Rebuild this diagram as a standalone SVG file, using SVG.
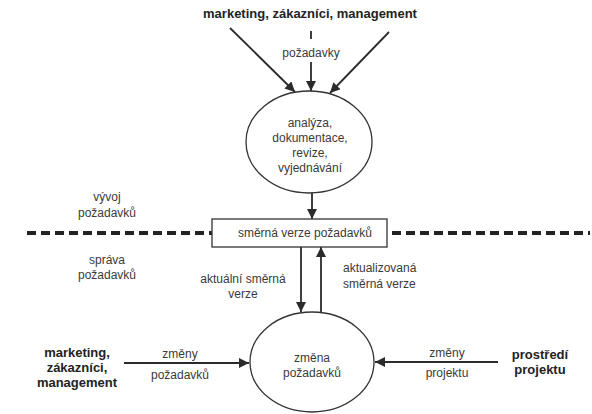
<svg xmlns="http://www.w3.org/2000/svg" width="592" height="414" viewBox="0 0 592 414">
  <defs>
    <marker id="arrow" viewBox="0 0 10 10" refX="10" refY="5" markerWidth="10" markerHeight="10" markerUnits="userSpaceOnUse" orient="auto">
      <path d="M0,0 L10,5 L0,10 Z" fill="#2b2b2b"/>
    </marker>
    <style>
      text { font-family: "Liberation Sans", Arial, sans-serif; fill: #3a3a3a; font-size: 12px; text-anchor: middle; }
      .bold { font-weight: bold; font-size: 13px; fill: #222; }
      .left { text-anchor: start; }
      .shape { fill: #fff; stroke: #333; stroke-width: 1.3; }
      .flow { fill: none; stroke: #2b2b2b; stroke-width: 1.8; marker-end: url(#arrow); }
      .plain { fill: none; stroke: #2b2b2b; stroke-width: 1.8; }
      .divider { fill: none; stroke: #222; stroke-width: 4; stroke-dasharray: 9 5; }
    </style>
  </defs>
  <rect width="592" height="414" fill="#fff"/>

  <!-- boundary between development and management of requirements -->
  <g id="divider">
    <line class="divider" x1="27" y1="233" x2="212" y2="233"/>
    <line class="divider" x1="392" y1="233" x2="590" y2="233"/>
    <text x="107" y="201">vývoj</text>
    <text x="107" y="217">požadavků</text>
    <text x="107" y="264">správa</text>
    <text x="107" y="279">požadavků</text>
  </g>

  <g id="connectors">
    <line class="flow" x1="230" y1="28" x2="295" y2="92"/>
    <line class="plain" x1="311" y1="31" x2="311" y2="39"/>
    <line class="flow" x1="311" y1="62" x2="311" y2="91"/>
    <line class="flow" x1="389" y1="32" x2="330" y2="93"/>
    <text x="311" y="57">požadavky</text>

    <line class="flow" x1="312" y1="192" x2="312" y2="219"/>

    <line class="flow" x1="301" y1="247" x2="301" y2="312"/>
    <line class="flow" x1="321" y1="313" x2="321" y2="247"/>
    <text x="243" y="283">aktuální směrná</text>
    <text x="243" y="298">verze</text>
    <text class="left" x="343" y="272">aktualizovaná</text>
    <text class="left" x="343" y="288">směrná verze</text>

    <line class="flow" x1="124" y1="363" x2="249" y2="363"/>
    <text x="180" y="358">změny</text>
    <text x="180" y="379">požadavků</text>

    <line class="flow" x1="498" y1="362" x2="375" y2="362"/>
    <text x="447" y="357">změny</text>
    <text x="447" y="377">projektu</text>
  </g>

  <g id="source-top">
    <text class="bold" x="310" y="18">marketing, zákazníci, management</text>
  </g>

  <g id="analysis">
    <ellipse class="shape" cx="309" cy="142" rx="63" ry="51"/>
    <text x="310" y="127">analýza,</text>
    <text x="310" y="142">dokumentace,</text>
    <text x="310" y="157">revize,</text>
    <text x="310" y="172">vyjednávání</text>
  </g>

  <g id="baseline">
    <rect class="shape" x="212" y="219" width="175" height="28"/>
    <text x="305" y="237">směrná verze požadavků</text>
  </g>

  <g id="change">
    <ellipse class="shape" cx="312" cy="362" rx="62" ry="50"/>
    <text x="312" y="362">změna</text>
    <text x="312" y="377">požadavků</text>
  </g>

  <g id="source-left">
    <text class="bold" x="77" y="357">marketing,</text>
    <text class="bold" x="77" y="372">zákazníci,</text>
    <text class="bold" x="77" y="387">management</text>
  </g>

  <g id="source-right">
    <text class="bold" x="540" y="359">prostředí</text>
    <text class="bold" x="540" y="374">projektu</text>
  </g>
</svg>
